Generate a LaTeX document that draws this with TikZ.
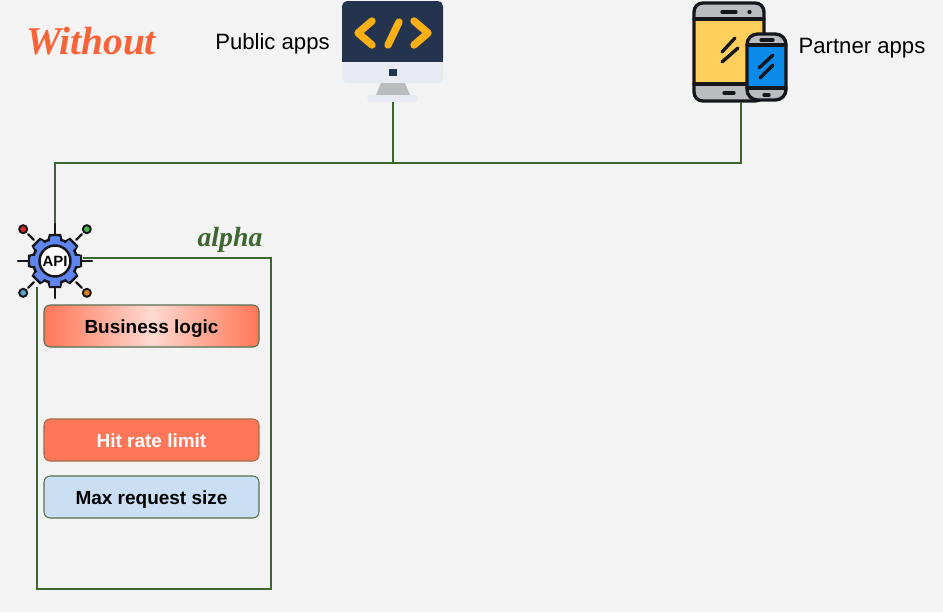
\documentclass[tikz,border=0pt]{standalone}
\usepackage{fontspec}
\newfontfamily\arialfont{Liberation Sans}
\newfontfamily\handfont{Liberation Serif}
\usetikzlibrary{positioning,calc}
\definecolor{fondo}{HTML}{F3F3F3}
\definecolor{verde}{HTML}{3E6630}
\definecolor{coral}{HTML}{FF7658}
\definecolor{corall}{HTML}{FFD9D0}
\definecolor{naranja}{HTML}{FA6238}
\definecolor{celeste}{HTML}{CADFF3}
\definecolor{marino}{HTML}{24344F}
\definecolor{plata}{HTML}{E7EAF1}
\definecolor{tinta}{HTML}{15171C}
\definecolor{gris}{HTML}{BABCBF}
\definecolor{ambar}{HTML}{FDB015}
\definecolor{amarillo}{HTML}{FFCF5C}
\definecolor{azulm}{HTML}{0A8BEA}
\definecolor{azulg}{HTML}{5F84EE}
\tikzset{
  wire/.style={draw=verde,line width=1.3pt},
  rowbox/.style={draw=#1,line width=0.6pt,rounded corners=3.5pt,minimum width=4.3cm,
    minimum height=0.84cm,inner sep=0pt,text height=9.5pt,text depth=1.5pt,
    font=\arialfont\bfseries\fontsize{10.8}{12}\selectfont},
  applabel/.style={font=\arialfont\fontsize{12.6}{15}\selectfont,text=black,inner sep=0pt},
  ink/.style={draw=tinta,line width=1.9pt,line cap=round},
  thinink/.style={draw=tinta,line width=1.3pt,line cap=round},
  code/.style={ambar,line width=4.2pt,line cap=round,line join=round},
}
\begin{document}
\begin{tikzpicture}[x=0.02cm,y=-0.02cm]
  \fill[fondo] (0,0) rectangle (943,612);
  % titulos
  \node[text=naranja,inner sep=0pt,font=\handfont\bfseries\itshape\fontsize{22.4}{28}\selectfont] (title) at (91,41) {Without};
  \node[applabel] (publiclabel) at (272.5,44) {Public apps};
  \node[applabel] (partnerlabel) at (862,48) {Partner apps};
  % monitor
  \fill[marino,rounded corners=3pt] (342,1) rectangle (443,64);
  \fill[marino] (342,40) rectangle (443,62);
  \fill[plata,rounded corners=3pt] (342,62) rectangle (443,83);
  \fill[plata] (342,62) rectangle (443,72);
  \fill[marino] (389,69) rectangle (397,76);
  \fill[gris] (381,83) -- (405,83) -- (410,95) -- (376,95) -- cycle;
  \fill[plata,rounded corners=2pt] (367,95) rectangle (418,102);
  \draw[code] (372,21) -- (358,33) -- (372,45);
  \draw[code] (414,21) -- (428,33) -- (414,45);
  \draw[code] (399,22) -- (388,45);
  % tableta
  \fill[amarillo] (694,19) rectangle (764,84);
  \fill[gris,rounded corners=4pt] (694,3) rectangle (764,19);
  \fill[gris,rounded corners=4pt] (694,84) rectangle (764,101);
  \draw[ink,rounded corners=5pt] (694,3) rectangle (764,101);
  \draw[ink] (694,19) -- (764,19) (694,84) -- (764,84);
  \draw[ink] (722,12) -- (736,12) (749,12) -- (750,12) (724,93) -- (734,93);
  \draw[ink] (722,52) -- (735,38) (722,62) -- (738,48);
  % telefono
  \fill[azulm] (747,45) rectangle (786,88);
  \fill[gris,rounded corners=4pt] (747,34) rectangle (786,45);
  \fill[gris,rounded corners=4pt] (747,88) rectangle (786,100);
  \draw[ink,rounded corners=6pt] (747,34) rectangle (786,100);
  \draw[ink] (747,45) -- (786,45) (747,88) -- (786,88);
  \draw[ink] (761,40) -- (773,40) (764,95) -- (769,95);
  \draw[ink] (759,68) -- (773,55) (760,78) -- (773,65);
  % conexiones
  \coordinate (publicapps) at (393,102);
  \coordinate (partnerapps) at (741,102);
  \coordinate (publicjoint) at (393,163);
  \coordinate (partnerjoint) at (741,163);
  \coordinate (apijoint) at (55,163);
  \node[circle,minimum size=0.92cm,inner sep=0pt] (api) at (55,261) {};
  \draw[wire] (publicapps) -- (publicjoint);
  \draw[wire] (partnerapps) -- (partnerjoint) -- (apijoint) -- (api);
  % caja alpha
  \draw[wire] (37,287) -- (37,589) -- (271,589) -- (271,258) -- (83,258);
  \node[text=verde,inner sep=0pt,font=\handfont\bfseries\itshape\fontsize{15.8}{18}\selectfont] (alpha) at (230,240) {alpha};
  \node[rowbox=verde!60!gray,left color=coral,right color=coral,middle color=corall,text=black] (business) at (151.5,326) {Business logic};
  \node[rowbox=verde!50!coral,fill=coral,text=white] (hitrate) at (151.5,440) {Hit rate limit};
  \node[rowbox=verde!60!gray,fill=celeste,text=black] (maxsize) at (151.5,497) {Max request size};
  % icono api
  \begin{scope}[shift={(api)}]
    \foreach \a/\c in {45/orange!80!gray,135/cyan!60!gray,225/red!70!gray,315/green!45!gray} {
      \draw[thinink] (\a:30) -- (\a:38);
      \draw[tinta,line width=1.1pt,fill=\c] (\a:45) circle (4);
    }
    \foreach \a in {0,90,180,270}
      \draw[thinink] (\a:26) -- (\a:37);
    \foreach \a in {0,45,...,315}
      \draw[tinta,line width=1.4pt,fill=azulg,rotate=\a] (19,-7) -- (26,-5) -- (26,5) -- (19,7) -- cycle;
    \draw[tinta,line width=1.4pt,fill=azulg] (0,0) circle (22);
    \foreach \a in {0,45,...,315}
      \fill[azulg,rotate=\a] (14,-5) rectangle (24.5,5);
    \draw[tinta,line width=1.4pt,fill=white] (0,0) circle (15.5);
    \node[font=\arialfont\bfseries\fontsize{8.5}{9}\selectfont,inner sep=0pt] (apitext) at (0,0) {API};
  \end{scope}
\end{tikzpicture}
\end{document}
